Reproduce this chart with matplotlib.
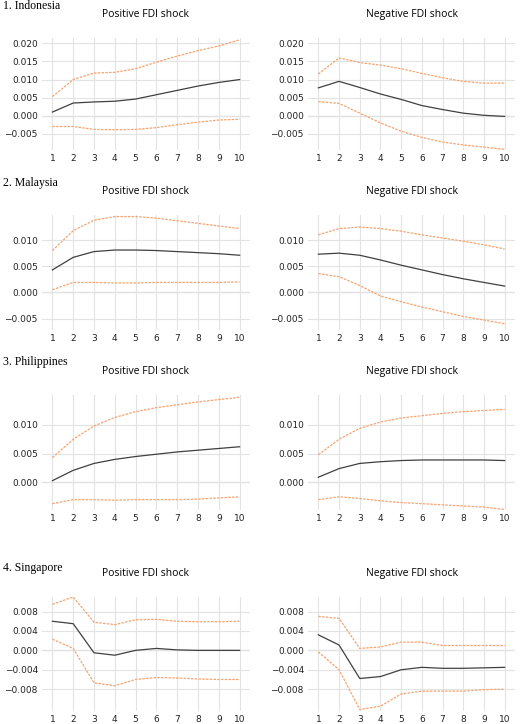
import numpy as np
import matplotlib
matplotlib.use('Agg')
import matplotlib.pyplot as plt

periods = np.arange(1, 11)
countries = ['1. Indonesia', '2. Malaysia', '3. Philippines', '4. Singapore']
shocks = ['Positive FDI shock', 'Negative FDI shock']

# (mid, upper, lower) per country, per shock
idn_pos = ([0.001, 0.0035, 0.0038, 0.004, 0.0046, 0.0058, 0.007, 0.0082, 0.0092, 0.010],
           [0.0053, 0.010, 0.0118, 0.012, 0.013, 0.0148, 0.0165, 0.018, 0.0193, 0.021],
           [-0.003, -0.003, -0.0038, -0.0039, -0.0038, -0.0033, -0.0025, -0.0018, -0.0012, -0.001])
idn_neg = ([0.0077, 0.0095, 0.0078, 0.006, 0.0045, 0.0028, 0.0017, 0.0007, 0.0001, -0.0002],
           [0.0115, 0.016, 0.0147, 0.014, 0.013, 0.0117, 0.0105, 0.0095, 0.009, 0.009],
           [0.0039, 0.0034, 0.0007, -0.002, -0.0043, -0.006, -0.0073, -0.0081, -0.0087, -0.0093])
mys_pos = ([0.0043, 0.0067, 0.0078, 0.0081, 0.0081, 0.008, 0.0078, 0.0076, 0.0074, 0.0071],
           [0.008, 0.0118, 0.0138, 0.0145, 0.0145, 0.0142, 0.0137, 0.0132, 0.0127, 0.0122],
           [0.0005, 0.0019, 0.0019, 0.0018, 0.0018, 0.0019, 0.0019, 0.0019, 0.0019, 0.002])
mys_neg = ([0.0073, 0.0075, 0.0071, 0.0062, 0.0052, 0.0043, 0.0034, 0.0026, 0.0019, 0.0012],
           [0.011, 0.0122, 0.0125, 0.0122, 0.0117, 0.011, 0.0104, 0.0098, 0.0091, 0.0083],
           [0.0036, 0.003, 0.0013, -0.0007, -0.0018, -0.0028, -0.0037, -0.0046, -0.0053, -0.006])
phl_pos = ([0.0003, 0.0021, 0.0033, 0.004, 0.0045, 0.0049, 0.0053, 0.0056, 0.0059, 0.0062],
           [0.0043, 0.0075, 0.0098, 0.0113, 0.0123, 0.013, 0.0135, 0.014, 0.0144, 0.0148],
           [-0.0037, -0.003, -0.003, -0.0031, -0.003, -0.003, -0.003, -0.0029, -0.0027, -0.0025])
phl_neg = ([0.0009, 0.0024, 0.0033, 0.0036, 0.0038, 0.0039, 0.0039, 0.0039, 0.0039, 0.0038],
           [0.0048, 0.0075, 0.0094, 0.0105, 0.0112, 0.0116, 0.012, 0.0123, 0.0125, 0.0127],
           [-0.003, -0.0025, -0.0028, -0.0032, -0.0035, -0.0037, -0.0039, -0.0041, -0.0043, -0.0047])
sgp_pos = ([0.006, 0.0055, -0.0005, -0.001, 0.0, 0.0004, 0.0001, 0.0, 0.0, 0.0],
           [0.0095, 0.011, 0.0058, 0.0053, 0.0063, 0.0064, 0.006, 0.0059, 0.0059, 0.006],
           [0.0023, 0.0004, -0.0067, -0.0073, -0.006, -0.0056, -0.0057, -0.0059, -0.006, -0.006])
sgp_neg = ([0.0032, 0.0011, -0.0058, -0.0054, -0.004, -0.0035, -0.0037, -0.0037, -0.0036, -0.0035],
           [0.007, 0.0066, 0.0004, 0.0007, 0.0017, 0.0017, 0.001, 0.001, 0.001, 0.001],
           [-0.0003, -0.004, -0.0122, -0.0115, -0.009, -0.0084, -0.0084, -0.0084, -0.0081, -0.008])

series = [(idn_pos, idn_neg), (mys_pos, mys_neg), (phl_pos, phl_neg), (sgp_pos, sgp_neg)]
yticks = [[-0.005, 0.0, 0.005, 0.010, 0.015, 0.020],
          [-0.005, 0.0, 0.005, 0.010],
          [0.0, 0.005, 0.010],
          [-0.008, -0.004, 0.0, 0.004, 0.008]]
ylims = [(-0.0095, 0.0215), (-0.0072, 0.0148), (-0.0048, 0.0152), (-0.0125, 0.011)]

W, H = 520, 724
fig = plt.figure(figsize=(W / 100, H / 100), dpi=100)

# pixel layout: country label y, axes top, axes bottom
rows = [(6, 38, 150), (183, 215, 330), (362, 395, 510), (568, 597, 711)]
cols = [(42, 250), (308, 515)]
orange = '#f4a470'

for r, (lab_y, top, bot) in enumerate(rows):
    fig.text(3 / W, 1 - lab_y / H, countries[r], family='Liberation Serif', fontsize=8.5, va='center')
    for c, (x0, x1) in enumerate(cols):
        ax = fig.add_axes([x0 / W, 1 - bot / H, (x1 - x0) / W, (bot - top) / H])
        mid, up, lo = series[r][c]
        ax.plot(periods, mid, color='#404040', lw=0.9)
        ax.plot(periods, up, color=orange, lw=0.9, ls=(0, (2, 1)))
        ax.plot(periods, lo, color=orange, lw=0.9, ls=(0, (2, 1)))
        ax.set_xlim(0.5, 10.5)
        ax.set_ylim(*ylims[r])
        ax.set_xticks(periods)
        ax.set_yticks(yticks[r])
        ax.set_yticklabels(['{:.3f}'.format(v).replace('-', '\u2212') for v in yticks[r]])
        ax.grid(True, color='#e3e3e3', lw=0.8)
        ax.axhline(0, color='#d6d6d6', lw=0.9, zorder=0)
        for s in ax.spines.values():
            s.set_visible(False)
        ax.tick_params(length=0, labelsize=6.5, colors='#222222', pad=3)
        ax.set_title(shocks[c], fontsize=7.5, family='Open Sans', pad=15)

fig.savefig('out.png', dpi=100)
